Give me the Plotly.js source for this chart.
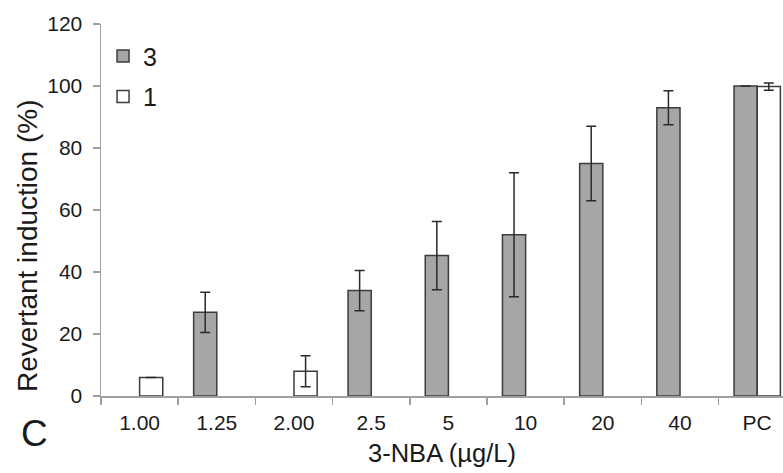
<!DOCTYPE html>
<html>
<head>
<meta charset="utf-8">
<script src="https://cdn.plot.ly/plotly-3.0.1.min.js"></script>
<style>html,body{margin:0;padding:0;background:#fff;overflow:hidden}</style>
</head>
<body>
<div id="chart" style="width:783px;height:473px;"></div>
<script>
var categories = ["1.00", "1.25", "2.00", "2.5", "5", "10", "20", "40", "PC"];
var series3 = [null, 27, null, 34, 45.3, 52, 75, 93, 100];
var series3Err = [null, 6.5, null, 6.5, 11, 20, 12, 5.5, null];
var series1 = [6, null, 8, null, null, null, null, null, 99.8];
var series1Err = [null, null, 5, null, null, null, null, null, 1.2];
var yTicks = [0, 20, 40, 60, 80, 100, 120];

var font = "Liberation Sans, Arial, sans-serif";
var traces = [
  {
    type: "bar", name: "3", x: categories, y: series3,
    marker: {color: "#a6a6a6", line: {color: "#3c3c3c", width: 1.5}},
    error_y: {type: "data", array: series3Err, visible: true, color: "#2a2a2a", thickness: 1.5, width: 5},
    legendgroup: "a"
  },
  {
    type: "bar", name: "1", x: categories, y: series1,
    marker: {color: "#ffffff", line: {color: "#3c3c3c", width: 1.5}},
    error_y: {type: "data", array: series1Err, visible: true, color: "#2a2a2a", thickness: 1.5, width: 5},
    legendgroup: "b"
  }
];

var layout = {
  width: 783, height: 473,
  margin: {l: 101, r: 0, t: 24, b: 77, pad: 0},
  paper_bgcolor: "#ffffff", plot_bgcolor: "#ffffff",
  barmode: "group", bargap: 0.4, bargroupgap: 0,
  font: {family: font, size: 21, color: "#1a1a1a"},
  showlegend: true,
  legend: {x: 0.003, y: 0.975, xanchor: "left", yanchor: "top", bgcolor: "rgba(0,0,0,0)",
           font: {size: 25, family: font, color: "#1a1a1a"}, tracegroupgap: 5, itemwidth: 30},
  xaxis: {
    type: "category", range: [-0.5, 8.334], tickson: "boundaries",
    showline: true, linecolor: "#a0a0a0", linewidth: 1.5,
    ticks: "outside", ticklen: 7, tickcolor: "#a0a0a0", tickwidth: 1.5,
    showgrid: false, zeroline: false, ticklabelstandoff: 7,
    tickfont: {size: 21, family: font, color: "#1a1a1a"},
    title: {text: "3-NBA (µg/L)", font: {size: 25.5, family: font, color: "#1a1a1a"}, standoff: 11}
  },
  yaxis: {
    range: [0, 120], tickvals: yTicks, ticktext: yTicks.map(String),
    showline: true, linecolor: "#a0a0a0", linewidth: 1.5,
    ticks: "outside", ticklen: 7, tickcolor: "#a0a0a0", tickwidth: 1.5,
    showgrid: false, zeroline: false, ticklabelstandoff: 6,
    tickfont: {size: 21, family: font, color: "#1a1a1a"}
  },
  annotations: [
    {text: "Revertant induction (%)", xref: "paper", yref: "paper", x: -0.1085, y: 0.403,
     xanchor: "center", yanchor: "middle", textangle: -90, showarrow: false,
     font: {size: 28, family: font, color: "#1a1a1a"}},
    {text: "C", xref: "paper", yref: "paper", x: -0.098, y: -0.1, xanchor: "center", yanchor: "middle",
     showarrow: false, font: {size: 37, family: font, color: "#1a1a1a"}}
  ]
};

Plotly.newPlot("chart", traces, layout, {displayModeBar: false, staticPlot: true});
</script>
</body>
</html>
